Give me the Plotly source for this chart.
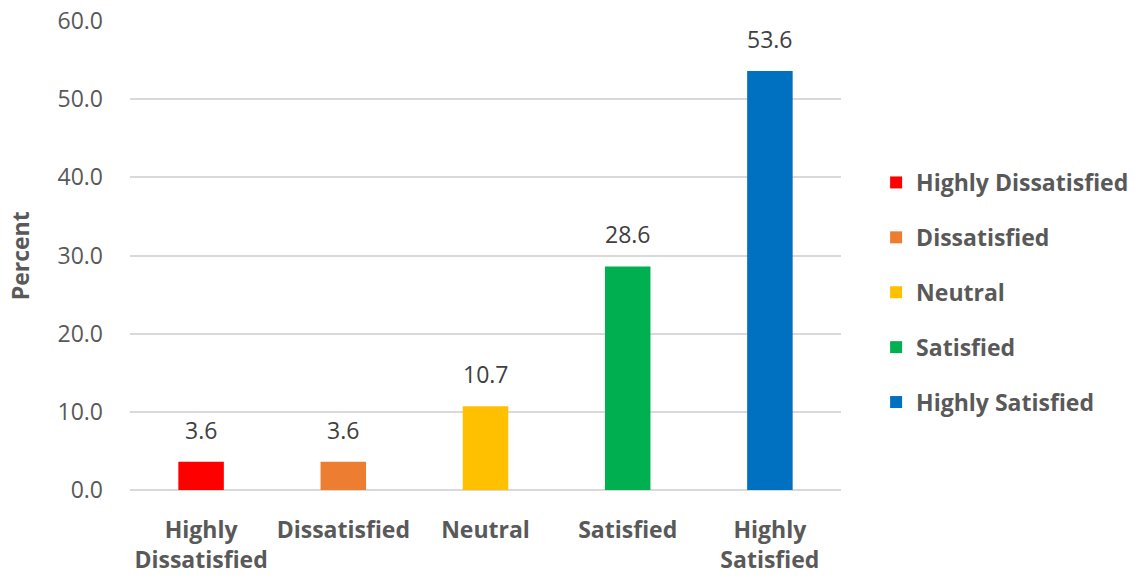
import plotly.graph_objects as go

# Survey satisfaction distribution
categories = ["Highly Dissatisfied", "Dissatisfied", "Neutral", "Satisfied", "Highly Satisfied"]
tick_labels = ["Highly<br>Dissatisfied", "Dissatisfied", "Neutral", "Satisfied", "Highly<br>Satisfied"]
percent = [3.6, 3.6, 10.7, 28.6, 53.6]
colors = ["#FF0000", "#ED7D31", "#FFC000", "#00B050", "#0070C0"]

FONT = "Open Sans"
GRAY = "#595959"

fig = go.Figure()
for cat, lab, val, col in zip(categories, tick_labels, percent, colors):
    fig.add_trace(go.Bar(
        x=[lab], y=[val], name=cat, legendgroup=cat,
        marker=dict(color=col, line=dict(width=0)),
        width=0.32,
    ))
    # value label floating above the bar
    fig.add_annotation(
        x=lab, y=val, text=f"{val:.1f}", showarrow=False,
        yanchor="bottom", yshift=14,
        font=dict(family=FONT, size=23, color="#404040"),
    )

# vertical axis title
fig.add_annotation(
    xref="paper", yref="paper", x=-0.155, y=0.5, xanchor="center", yanchor="middle",
    text="Percent", textangle=-90, showarrow=False,
    font=dict(family=FONT, size=23, color=GRAY, weight="bold"),
)

fig.update_layout(
    width=1143, height=580,
    margin=dict(l=130, r=302, t=21, b=90),
    paper_bgcolor="white", plot_bgcolor="white",
    barmode="overlay",
    showlegend=True,
    legend=dict(
        xref="container", yref="container",
        x=0.7665, y=0.4957, xanchor="left", yanchor="middle",
        font=dict(family=FONT, size=23, color=GRAY, weight="bold"),
        tracegroupgap=22, itemwidth=30,
    ),
    xaxis=dict(
        categoryorder="array", categoryarray=tick_labels,
        tickfont=dict(family=FONT, size=23, color=GRAY, weight="bold"),
        showline=False, ticks="", showgrid=False,
        ticklabelstandoff=24, automargin=False,
    ),
    yaxis=dict(
        range=[0, 60], dtick=10, tickformat=".1f",
        tickfont=dict(family=FONT, size=23, color=GRAY),
        showgrid=True, gridcolor="#D9D9D9", gridwidth=2,
        zeroline=True, zerolinecolor="#D9D9D9", zerolinewidth=2,
        ticks="", ticklabelstandoff=26, automargin=False,
    ),
)

fig.write_html("out.html")
